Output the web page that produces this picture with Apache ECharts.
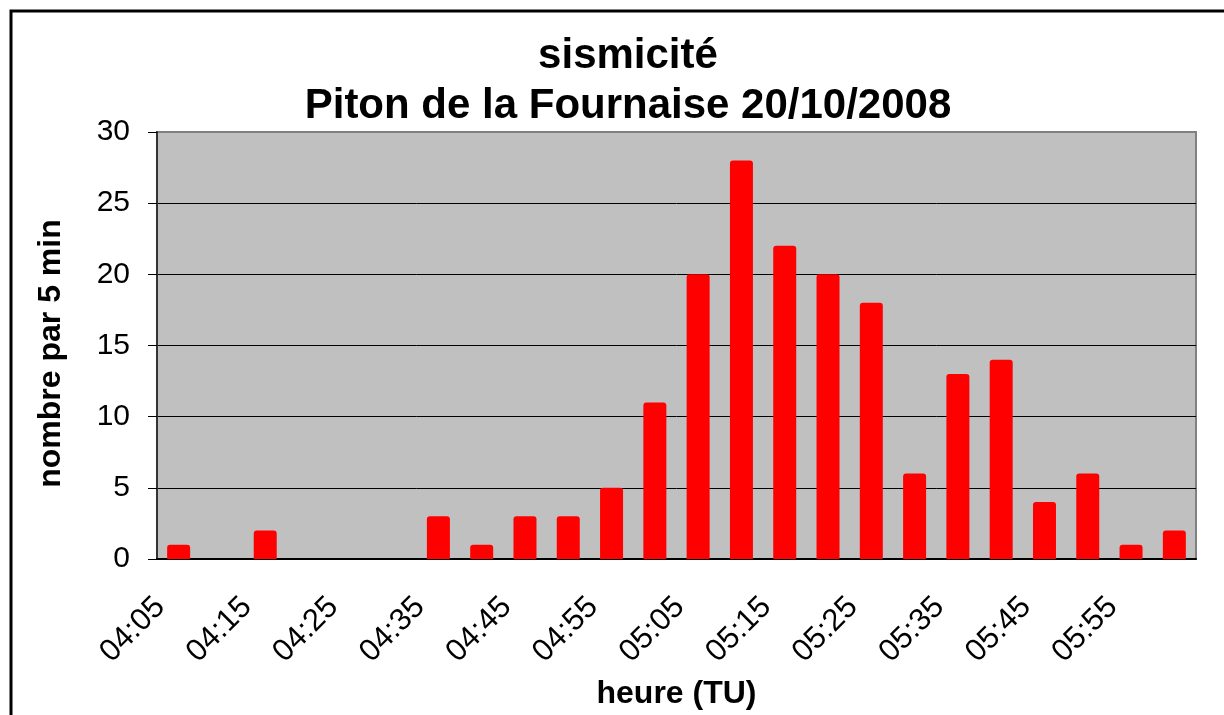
<!DOCTYPE html>
<html>
<head>
<meta charset="utf-8">
<title>sismicité</title>
<script src="https://cdn.jsdelivr.net/npm/echarts@6/dist/echarts.min.js"></script>
<style>
  html, body { margin: 0; padding: 0; background: #fff; }
  #chart { width: 1224px; height: 715px; }
</style>
</head>
<body>
<div id="chart"></div>
<script>
// heures (TU), pas de 5 min
const categories = [
  "04:05", "04:10", "04:15", "04:20", "04:25", "04:30",
  "04:35", "04:40", "04:45", "04:50", "04:55", "05:00",
  "05:05", "05:10", "05:15", "05:20", "05:25", "05:30",
  "05:35", "05:40", "05:45", "05:50", "05:55", "06:00"
];
// nombre de séismes par 5 min
const counts = [1, 0, 2, 0, 0, 0, 3, 1, 3, 3, 5, 11, 20, 28, 22, 20, 18, 6, 13, 14, 4, 6, 1, 2];
const yTicks = [0, 5, 10, 15, 20, 25, 30];

const font = "'Liberation Sans', Arial, sans-serif";
const chart = echarts.init(document.getElementById("chart"));

// ligne du haut (30) en gris comme le bord du graphique
const splitColors = yTicks.map((v, i) => (i === yTicks.length - 1 ? "#808080" : "#000"));

const option = {
  animation: false,
  backgroundColor: "#fff",
  title: {
    text: "sismicité\nPiton de la Fournaise 20/10/2008",
    left: 623,
    top: 26,
    textAlign: "center",
    textStyle: {
      fontFamily: font,
      fontSize: 42,
      fontWeight: "bold",
      color: "#000",
      lineHeight: 50,
    },
  },
  graphic: [
    {
      // cadre noir du graphique
      type: "rect",
      shape: { x: 11, y: 11, width: 1300, height: 800 },
      style: { fill: "none", stroke: "#000", lineWidth: 3 },
      silent: true,
    },
  ],
  grid: {
    left: 157,
    right: 28,
    top: 132,
    bottom: 153,
    show: true,
    backgroundColor: "#c0c0c0",
    borderColor: "#808080",
    borderWidth: 2,
  },
  xAxis: {
    type: "category",
    data: categories,
    name: "heure (TU)",
    nameLocation: "middle",
    nameGap: 119,
    nameTextStyle: {
      fontFamily: font,
      fontSize: 32,
      fontWeight: "bold",
      color: "#000",
    },
    axisLine: { lineStyle: { color: "#000", width: 2 } },
    axisTick: {
      interval: 0,
      length: 9,
      lineStyle: { color: "#000", width: 1 },
    },
    axisLabel: {
      interval: 1,
      rotate: 45,
      margin: 25,
      padding: [0, 26, 0, 0],
      fontFamily: font,
      fontSize: 31,
      color: "#000",
    },
    splitLine: { show: false },
  },
  yAxis: {
    type: "value",
    min: 0,
    max: 30,
    interval: 5,
    name: "nombre par 5 min",
    nameLocation: "middle",
    nameGap: 90,
    nameTextStyle: {
      fontFamily: font,
      fontSize: 32,
      fontWeight: "bold",
      color: "#000",
      padding: [0, 16, 0, 0],
    },
    axisLine: { show: true, lineStyle: { color: "#333", width: 2 } },
    axisTick: { show: true, length: 9, lineStyle: { color: "#000", width: 1 } },
    axisLabel: {
      margin: 27,
      fontFamily: font,
      fontSize: 30,
      color: "#000",
    },
    splitLine: {
      show: true,
      lineStyle: { color: splitColors, width: 1 },
    },
  },
  series: [
    {
      type: "bar",
      data: counts,
      barWidth: 23,
      itemStyle: {
        color: "#ff0000",
        borderRadius: [3, 3, 0, 0],
      },
    },
  ],
};

chart.setOption(option);
</script>
</body>
</html>
